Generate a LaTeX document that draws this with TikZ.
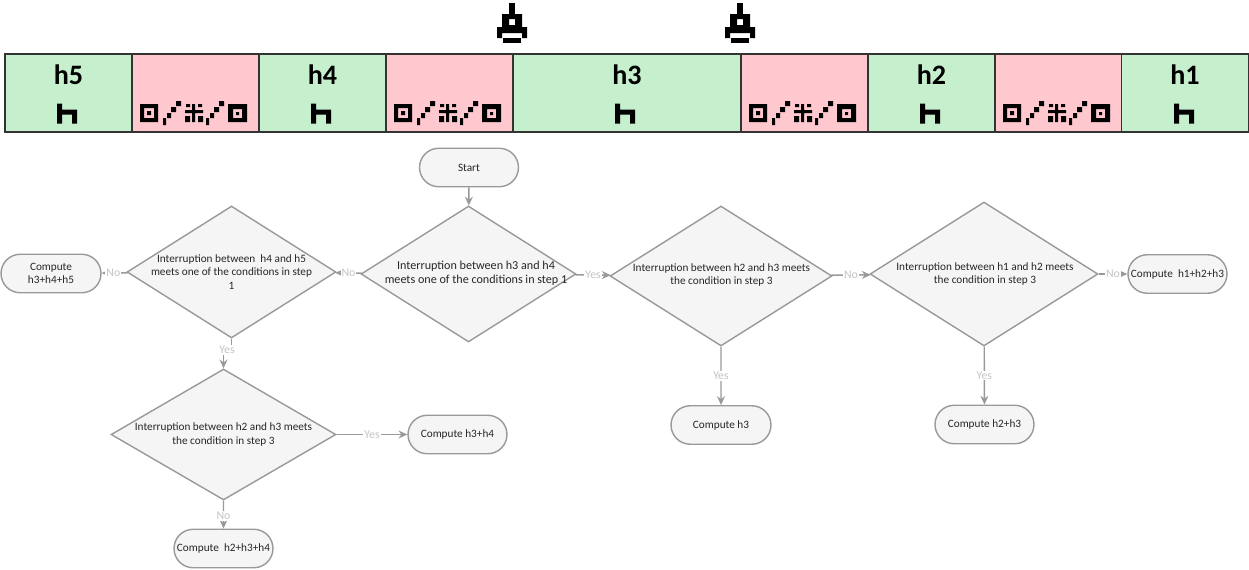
\documentclass[tikz,border=0pt]{standalone}
\usepackage{fontspec}
\setmainfont{Carlito}
\usetikzlibrary{shapes.geometric, shapes.misc, arrows.meta, positioning}

\definecolor{cellgreen}{HTML}{C6EFCE}
\definecolor{cellred}{HTML}{FFC7CE}
\definecolor{boxfill}{HTML}{F5F5F5}
\definecolor{boxline}{HTML}{999999}
\definecolor{labelgray}{HTML}{C4C4C4}

\begin{document}
\begin{tikzpicture}[
    x=0.02cm, y=-0.02cm,
    cell/.style={draw=black!80, line width=0.6pt, minimum height=1.56cm, minimum width=2.54cm, inner sep=0pt},
    good/.style={cell, fill=cellgreen},
    bad/.style={cell, fill=cellred},
    cellname/.style={font=\fontsize{16}{19}\selectfont\bfseries, text=black, inner sep=0pt},
    decision/.style={diamond, draw=boxline, fill=boxfill, line width=0.8pt, inner sep=0pt},
    decisiontext/.style={align=center, font=\fontsize{6.4}{7.7}\selectfont, text=black!85, inner sep=0pt},
    terminal/.style={rounded rectangle, draw=boxline, fill=boxfill, line width=0.8pt, minimum width=1.98cm, minimum height=0.77cm, inner sep=0pt, align=center, font=\fontsize{6.4}{7.7}\selectfont, text=black!85},
    flow/.style={-{Stealth[length=5pt, width=4.5pt]}, draw=boxline, line width=0.8pt},
    answer/.style={font=\fontsize{6.7}{8}\selectfont, text=labelgray, fill=white, inner sep=0.6pt},
    pics/hmark/.style={code={
        \fill[black] (-10,-10) rectangle (-5,10) (-5,-4) rectangle (10,1) (5,-4) rectangle (10,10);
    }},
    pics/faultmark/.style={code={
        % dotted box
        \fill[black, even odd rule] (-54,-9) rectangle (-36,9) (-50,-5) rectangle (-40,5) (-47,-2) rectangle (-43,2);
        % first slash
        \fill[black] (-31,5) rectangle (-28,12) (-27,0) rectangle (-23,5) (-23,-6) rectangle (-18,-1) (-18,-12) rectangle (-13,-7);
        % star
        \fill[black] (-2,-9) rectangle (1,9) (-9,-3) rectangle (9,0) (-8,-9) rectangle (-4,-6) (4,-9) rectangle (8,-6) (-9,3) rectangle (-4,9) (4,3) rectangle (9,9);
        % second slash
        \fill[black] (12,5) rectangle (15,12) (16,0) rectangle (20,5) (20,-6) rectangle (25,-1) (25,-12) rectangle (30,-7);
        % solid box
        \fill[black, even odd rule] (34,-9) rectangle (53,9) (39,-4) rectangle (48,5) (42,-1) rectangle (45,2);
    }},
    pics/lamp/.style={code={
        \fill[black] (-3,3) rectangle (3,14);
        \fill[black, even odd rule] (-10,14) rectangle (10,27) (-3,19) rectangle (3,25);
        % base with its slot
        \fill[black, even odd rule] (-15,27) rectangle (15,38) (-10,33) rectangle (10,38);
        \fill[black] (-9,38) rectangle (9,43);
    }}
]
\useasboundingbox (0,0) rectangle (1249,569);

% Lamps above the strip
\pic at (512,0) {lamp};
\pic at (740,0) {lamp};

% Strip of cells
\node[good] (cellfive) at (68.5,93) {};
\node[bad] (gapfour) at (195.5,93) {};
\node[good] (cellfour) at (322.5,93) {};
\node[bad] (gapthree) at (449.5,93) {};
\node[good, minimum width=4.56cm] (cellthree) at (627,93) {};
\node[bad] (gaptwo) at (804.5,93) {};
\node[good] (celltwo) at (931.5,93) {};
\node[bad] (gapone) at (1058.5,93) {};
\node[good] (cellone) at (1185,93) {};

\node[cellname] (namefive) at (68.5,75) {h5};
\node[cellname] (namefour) at (322.5,75) {h4};
\node[cellname] (namethree) at (627,75) {h3};
\node[cellname] (nametwo) at (931.5,75) {h2};
\node[cellname] (nameone) at (1185,75) {h1};

\pic at (67,113.5) {hmark};
\pic at (321,113.5) {hmark};
\pic at (625,113.5) {hmark};
\pic at (930,113.5) {hmark};
\pic at (1184,113.5) {hmark};

\pic at (194,113) {faultmark};
\pic at (448,113) {faultmark};
\pic at (803,113) {faultmark};
\pic at (1057,113) {faultmark};

% Decisions
\node[decision, minimum width=4.18cm, minimum height=2.64cm] (askhfour) at (231.5,272) {};
\node[decision, minimum width=4.3cm, minimum height=2.72cm] (askhthree) at (468.5,274) {};
\node[decision, minimum width=4.44cm, minimum height=2.8cm] (asktwo) at (721,276) {};
\node[decision, minimum width=4.56cm, minimum height=2.88cm] (askone) at (984,274) {};
\node[decision, minimum width=4.5cm, minimum height=2.62cm] (asklow) at (223.5,434.5) {};

\node[decisiontext] (texthfour) at (231.5,272) {Interruption between\ \ h4 and h5\\meets one of the conditions in step\\1};
\node[decisiontext, font=\fontsize{6.9}{7.7}\selectfont] (texththree) at (476,273.5) {Interruption between h3 and h4\\meets one of the conditions in step 1};
\node[decisiontext] (texttwo) at (721.5,275) {Interruption between h2 and h3 meets\\the condition in step 3};
\node[decisiontext] (textone) at (985,274) {Interruption between h1 and h2 meets\\the condition in step 3};
\node[decisiontext] (textlow) at (223.5,434.5) {Interruption between h2 and h3 meets\\the condition in step 3};

% Start and results
\node[terminal] (start) at (469,167.5) {Start};
\node[terminal, minimum width=2cm] (sumfive) at (51,273.5) {Compute\\h3+h4+h5};
\node[terminal] (sumpair) at (457.5,434.5) {Compute h3+h4};
\node[terminal] (sumlow) at (223.5,548.5) {Compute\ \ h2+h3+h4};
\node[terminal, minimum width=2cm] (sumthree) at (721,425) {Compute h3};
\node[terminal] (sumtwo) at (984.5,424.5) {Compute h2+h3};
\node[terminal] (sumone) at (1177.5,274) {Compute\ \ h1+h2+h3};

% Connectors
\coordinate (jog) at (227,350);
\draw[flow] (start) -- (askhthree);
\draw[flow] (askhthree) -- node[answer, pos=0.5] {No} (askhfour);
\draw[flow] (askhfour) -- node[answer, pos=0.55] {No} (sumfive);
\draw[flow] (askhfour.south) |- (jog) -| (asklow.north);
\node[answer] (yesjog) at (jog) {Yes};
\draw[flow] (askhthree) -- node[answer, pos=0.5] {Yes} (asktwo);
\draw[flow] (asktwo) -- node[answer, pos=0.5] {No} (askone);
\draw[flow] (askone) -- node[answer, pos=0.5] {No} (sumone);
\draw[flow] (asktwo) -- node[answer, pos=0.5] {Yes} (sumthree);
\draw[flow] (askone) -- node[answer, pos=0.5] {Yes} (sumtwo);
\draw[flow] (asklow) -- node[answer, pos=0.5] {Yes} (sumpair);
\draw[flow] (asklow) -- node[answer, pos=0.55] {No} (sumlow);

\end{tikzpicture}
\end{document}
